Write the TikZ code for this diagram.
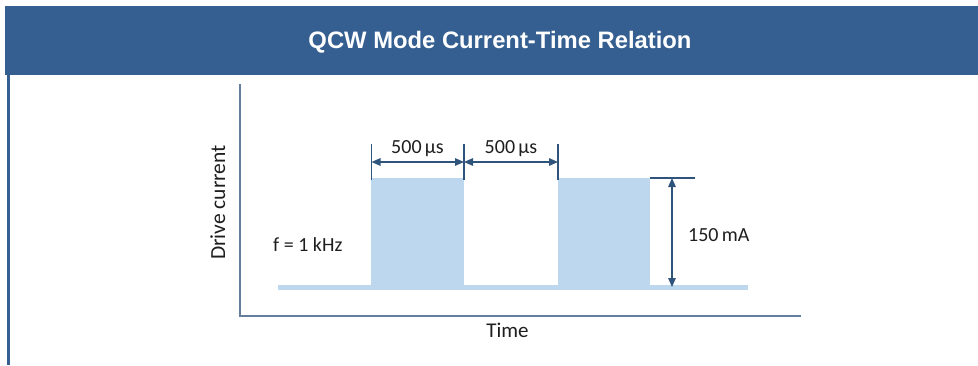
\documentclass[tikz,border=0pt]{standalone}
\usepackage{fontspec}
\setmainfont{Carlito}
\newfontfamily\titlefont{Liberation Sans}
\usetikzlibrary{arrows.meta}

\definecolor{headblue}{RGB}{54,95,145}
\definecolor{pulsefill}{RGB}{189,215,238}
\definecolor{axiscol}{RGB}{100,126,158}
\definecolor{dimcol}{RGB}{47,84,124}
\definecolor{labelcol}{RGB}{30,30,30}

\tikzset{
  axisline/.style={draw=axiscol, line width=2pt},
  dimline/.style={draw=dimcol, line width=1.4pt},
  dimarrow/.style={dimline, {Triangle[length=9pt,width=7.5pt]}-{Triangle[length=9pt,width=7.5pt]}},
  pulse/.style={fill=pulsefill, draw=none},
  lbl/.style={text=labelcol, font=\fontsize{20}{23}\selectfont, inner sep=0pt},
}

\begin{document}
\begin{tikzpicture}[x=1pt, y=-1pt]
  \useasboundingbox (0,0) rectangle (978,365);

  % header band and left rule
  \fill[headblue] (5,6) rectangle (978,75);
  \draw[headblue, line width=2.5pt] (8.5,75) -- (8.5,365);
  \node[text=white, inner sep=0pt, anchor=base,
        font=\titlefont\bfseries\fontsize{23.8}{27}\selectfont]
        (title) at (500,48.5) {QCW Mode Current-Time Relation};

  % axes
  \coordinate (ytop) at (240,84);
  \coordinate (origin) at (240,316);
  \coordinate (xend) at (801,316);
  \draw[axisline] (ytop) -- (origin) -- (xend);

  % drive current waveform
  \fill[pulse] (278,285) rectangle (748,290);
  \fill[pulse] (371,178) rectangle (464,290);
  \fill[pulse] (558,178) rectangle (650,290);

  % dimension ticks
  \coordinate (t1a) at (371.5,144); \coordinate (t1b) at (371.5,180);
  \coordinate (t2a) at (464,144);   \coordinate (t2b) at (464,180);
  \coordinate (t3a) at (558,144);   \coordinate (t3b) at (558,180);
  \draw[dimline] (t1a) -- (t1b);
  \draw[dimline] (t2a) -- (t2b);
  \draw[dimline] (t3a) -- (t3b);

  % width arrows
  \coordinate (w1) at (371.5,162);
  \coordinate (w2) at (464,162);
  \coordinate (w3) at (558,162);
  \draw[dimarrow] (w1) -- (w2);
  \draw[dimarrow] (w2) -- (w3);

  % amplitude marker
  \coordinate (h1) at (650,178);
  \coordinate (h2) at (695,178);
  \draw[dimline] (h1) -- (h2);
  \coordinate (a1) at (672,178);
  \coordinate (a2) at (672,287);
  \draw[dimarrow] (a1) -- (a2);

  % labels
  \node[lbl, anchor=base] (lw1) at (417.5,153) {500\,µs};
  \node[lbl, anchor=base] (lw2) at (511,153) {500\,µs};
  \node[lbl, anchor=base west] (lamp) at (688,241) {150\,mA};
  \node[lbl, anchor=base west] (lfreq) at (273,251) {f = 1 kHz};
  \node[lbl, anchor=base, font=\fontsize{21}{24}\selectfont] (ltime) at (507.5,337) {Time};
  \node[lbl, anchor=base, rotate=90, font=\fontsize{21.5}{24}\selectfont] (ldrive) at (225,202.5) {Drive current};
\end{tikzpicture}
\end{document}
